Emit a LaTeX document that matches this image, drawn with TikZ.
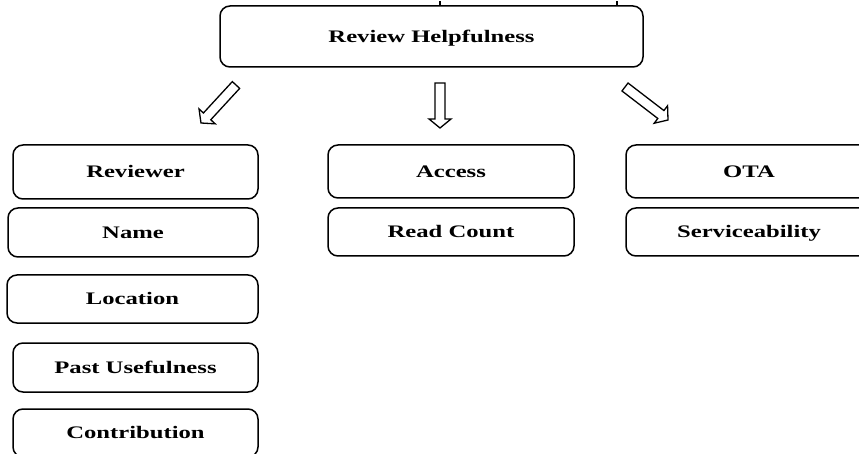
\documentclass[tikz,border=0pt]{standalone}
\usepackage{fontspec}
\setmainfont{Liberation Serif}[FakeStretch=1.4]
\usetikzlibrary{calc}
\tikzset{
  box/.style={draw, line width=1.5pt, rounded corners=10pt, inner sep=0pt,
    font=\fontsize{17.6}{20}\selectfont\bfseries, text height=11.7pt, text depth=0pt,
    align=center},
  blockarr/.style={draw, line width=1.3pt, fill=white, line join=miter},
  topmark/.style={draw, line width=1.4pt}
}
\begin{document}
\begin{tikzpicture}[x=1pt,y=-1pt]
\useasboundingbox (0,0) rectangle (859,454);

\node[box, minimum width=423pt, minimum height=61pt] (rh) at (431.5,36.5) {Review Helpfulness};

\node[box, minimum width=245pt, minimum height=54pt] (reviewer) at (135.5,172) {Reviewer};
\node[box, minimum width=250pt, minimum height=49pt] (name) at (133,232.5) {Name};
\node[box, minimum width=251pt, minimum height=48pt] (location) at (132.5,299) {Location};
\node[box, minimum width=245pt, minimum height=49pt] (past) at (135.5,367.5) {Past Usefulness};
\node[box, minimum width=245pt, minimum height=48pt] (contrib) at (135.5,433) {Contribution};

\node[box, minimum width=246pt, minimum height=53pt] (access) at (451,171.5) {Access};
\node[box, minimum width=246pt, minimum height=48pt] (read) at (451,232) {Read Count};

\node[box, minimum width=246pt, minimum height=53pt] (ota) at (749,171.5) {OTA};
\node[box, minimum width=246pt, minimum height=48pt] (serv) at (749,232) {Serviceability};

% short marks above the top box
\coordinate (k1) at (440,1.5);
\coordinate (k2) at (617,1.5);
\path[topmark] (rh.north -| k1) -- (k1);
\path[topmark] (rh.north -| k2) -- (k2);

% block arrows
\coordinate (t1) at (236,85);  \coordinate (h1) at (201,123);
\coordinate (t2) at (440,83);  \coordinate (h2) at (440,128);
\coordinate (t3) at (625,87);  \coordinate (h3) at (668,120);
\foreach \ta/\ha in {t1/h1,t2/h2,t3/h3}{
  \coordinate (b) at ($(\ha)!9pt!(\ta)$);
  \draw[blockarr] ($(\ta)!5pt!90:(\ha)$) -- ($(b)!5pt!-90:(\ta)$) -- ($(b)!11pt!-90:(\ta)$)
     -- (\ha) -- ($(b)!11pt!90:(\ta)$) -- ($(b)!5pt!90:(\ta)$) -- ($(\ta)!5pt!-90:(\ha)$) -- cycle;
}
\end{tikzpicture}
\end{document}
